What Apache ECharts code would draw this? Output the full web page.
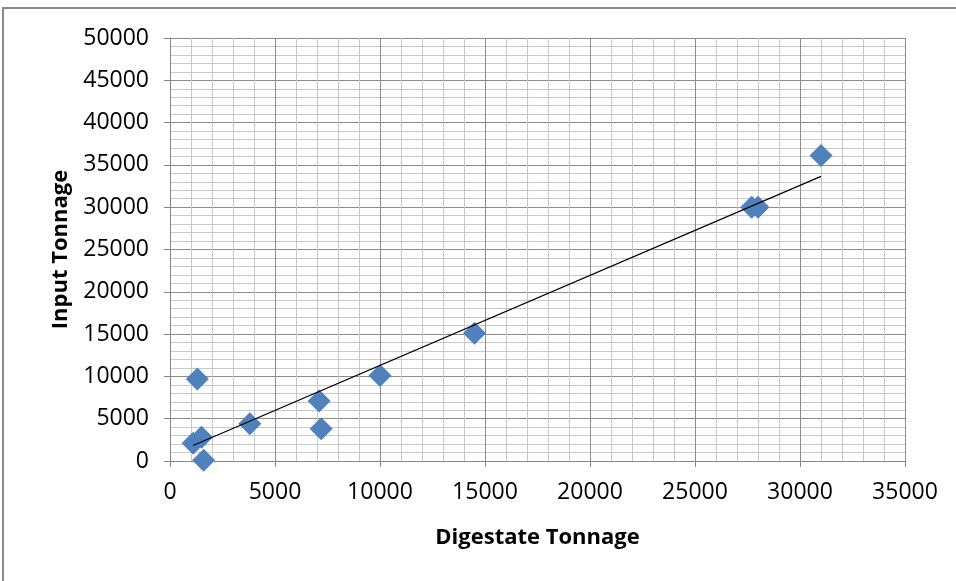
<!DOCTYPE html>
<html><head><meta charset="utf-8">
<script src="https://cdn.jsdelivr.net/npm/echarts@6/dist/echarts.min.js"></script>
<style>html,body{margin:0;padding:0;background:#fff}#c{width:956px;height:581px}</style>
</head><body><div id="c"></div>
<script>
var digestate = [1100, 1500, 1600, 1300, 3800, 7100, 7200, 10000, 14500, 27700, 28000, 31000];
var inputTon  = [2100, 2800, 100, 9700, 4400, 7100, 3800, 10100, 15100, 30000, 30000, 36100];
var xTicks = [0, 5000, 10000, 15000, 20000, 25000, 30000, 35000];
var yTicks = [0, 5000, 10000, 15000, 20000, 25000, 30000, 35000, 40000, 45000, 50000];

// linear trendline (least squares) computed from the data
var n = digestate.length, sx = 0, sy = 0;
for (var i = 0; i < n; i++) { sx += digestate[i]; sy += inputTon[i]; }
var mx = sx / n, my = sy / n, sxy = 0, sxx = 0;
for (i = 0; i < n; i++) { sxy += (digestate[i]-mx)*(inputTon[i]-my); sxx += (digestate[i]-mx)*(digestate[i]-mx); }
var slope = sxy / sxx, icpt = my - slope * mx;
var xmin = Math.min.apply(null, digestate), xmax = Math.max.apply(null, digestate);
var trend = [[xmin, icpt + slope*xmin], [xmax, icpt + slope*xmax]];

var pts = digestate.map(function(x, k){ return [x, inputTon[k]]; });
var FONT = 'Open Sans';
var fmt = function(v){ return String(v); };
var chart = echarts.init(document.getElementById('c'), null, {renderer:'canvas'});
chart.setOption({
  animation: false,
  backgroundColor: '#fff',
  graphic: [{type:'rect', shape:{x:3, y:8, width:1000, height:700}, style:{fill:'none', stroke:'#8a8a8a', lineWidth:2}, z:-10}],
  grid: {left:170, right:51, top:38, bottom:120, containLabel:false},
  xAxis: {
    type:'value', min:xTicks[0], max:xTicks[xTicks.length-1], interval:5000,
    name:'Digestate Tonnage', nameLocation:'middle', nameGap:66,
    nameTextStyle:{fontFamily:FONT, fontWeight:'bold', fontSize:22, color:'#000'},
    axisLine:{show:true, lineStyle:{color:'#868686', width:1}},
    axisTick:{show:true, length:6, lineStyle:{color:'#868686'}},
    axisLabel:{fontFamily:FONT, fontSize:23, color:'#000', margin:20, formatter:fmt},
    splitLine:{show:true, lineStyle:{color:'#8c8c8c', width:1}},
    minorTick:{show:false, splitNumber:5},
    minorSplitLine:{show:true, lineStyle:{color:'#c8c8c8', width:1}}
  },
  yAxis: {
    type:'value', min:yTicks[0], max:yTicks[yTicks.length-1], interval:5000,
    name:'Input Tonnage', nameLocation:'middle', nameGap:98, nameRotate:90,
    nameTextStyle:{fontFamily:FONT, fontWeight:'bold', fontSize:22, color:'#000'},
    axisLine:{show:true, lineStyle:{color:'#868686', width:1}},
    axisTick:{show:true, length:6, lineStyle:{color:'#868686'}},
    axisLabel:{fontFamily:FONT, fontSize:23, color:'#000', margin:21, formatter:fmt},
    splitLine:{show:true, lineStyle:{color:'#8c8c8c', width:1}},
    minorTick:{show:false, splitNumber:5},
    minorSplitLine:{show:true, lineStyle:{color:'#c8c8c8', width:1}}
  },
  series: [
    {type:'scatter', data:pts, symbol:'diamond', symbolSize:[23,23], clip:false,
     itemStyle:{color:'#4f81bd', opacity:1}, z:3},
    {type:'line', data:trend, symbol:'none', lineStyle:{color:'#000', width:1.2}, z:4, silent:true}
  ]
});
</script></body></html>
